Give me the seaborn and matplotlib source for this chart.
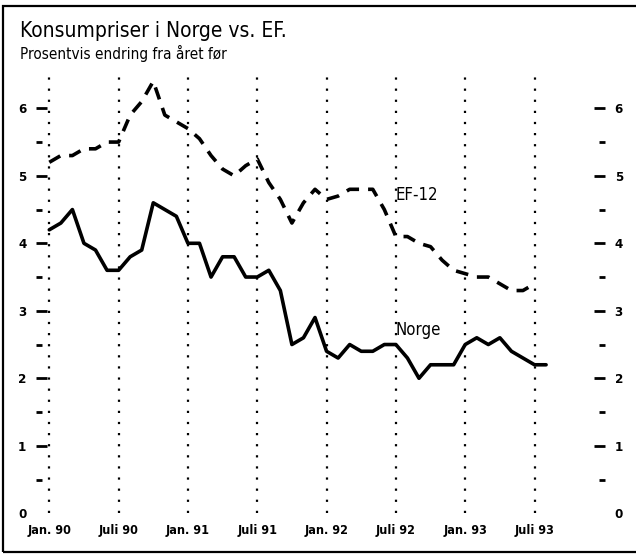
"""Konsumpriser i Norge vs. EF. - recreated with seaborn."""

import matplotlib

matplotlib.use("Agg")
import matplotlib.pyplot as plt
import numpy as np
import pandas as pd
import seaborn as sns
from matplotlib import font_manager
from matplotlib.patches import Rectangle

# months counted from Jan. 1990
norge = [4.2, 4.3, 4.5, 4.0, 3.9, 3.6, 3.6, 3.8, 3.9, 4.6, 4.5, 4.4,
         4.0, 4.0, 3.5, 3.8, 3.8, 3.5, 3.5, 3.6, 3.3, 2.5, 2.6, 2.9,
         2.4, 2.3, 2.5, 2.4, 2.4, 2.5, 2.5, 2.3, 2.0, 2.2, 2.2, 2.2,
         2.5, 2.6, 2.5, 2.6, 2.4, 2.3, 2.2, 2.2]
ef12 = [5.2, 5.3, 5.3, 5.4, 5.4, 5.5, 5.5, 5.9, 6.1, 6.4, 5.9, 5.8,
        5.7, 5.55, 5.3, 5.1, 5.0, 5.15, 5.25, 4.9, 4.65, 4.3, 4.6, 4.8,
        4.65, 4.7, 4.8, 4.8, 4.8, 4.5, 4.1, 4.1, 4.0, 3.95, 3.75, 3.6,
        3.55, 3.5, 3.5, 3.4, 3.3, 3.3, 3.4]
tick_months = [0, 6, 12, 18, 24, 30, 36, 42]
tick_labels = ["Jan. 90", "Juli 90", "Jan. 91", "Juli 91",
               "Jan. 92", "Juli 92", "Jan. 93", "Juli 93"]
y_ticks = [0, 1, 2, 3, 4, 5, 6]

W, H = 636, 557

sns.set_style("white")
plt.rcParams["font.family"] = ["Liberation Sans", "DejaVu Sans"]
plt.rcParams["text.color"] = "black"
plt.rcParams["xtick.color"] = "black"
plt.rcParams["ytick.color"] = "black"


def narrow_font(bold):
  # look for a condensed/narrow sans face; None if nothing like that is installed
  want = 700 if bold else 400
  best = None
  for f in font_manager.fontManager.ttflist:
    narrow = ("Narrow" in f.name or "Condensed" in f.name
              or f.stretch in ("condensed", "semi-condensed", 600, 700, 300, 400))
    narrow = narrow and f.stretch not in ("normal", 500)
    if not narrow or f.style != "normal":
      continue
    w = f.weight if isinstance(f.weight, int) else (700 if "bold" in str(f.weight) else 400)
    if (w >= 600) != bold:
      continue
    if best is None or abs(w - want) < abs(best[0] - want):
      best = (w, f.fname)
  return best[1] if best else None


reg_file = narrow_font(False)
bold_file = narrow_font(True)
have_narrow = reg_file is not None
fp_reg = font_manager.FontProperties(fname=reg_file) if have_narrow else font_manager.FontProperties(family="Liberation Sans")
fp_bold = (font_manager.FontProperties(fname=bold_file) if bold_file
           else font_manager.FontProperties(family="Liberation Sans", weight="bold"))
k = 1.0 if have_narrow else 0.85

df = pd.concat([
  pd.DataFrame({"month": np.arange(len(norge)), "value": norge, "serie": "Norge"}),
  pd.DataFrame({"month": np.arange(len(ef12)), "value": ef12, "serie": "EF-12"}),
])

fig = plt.figure(figsize=(W / 100, H / 100), dpi=100)
ax = fig.add_axes([36 / W, (H - 520) / H, (605 - 36) / W, (520 - 57.7) / H])

# dotted verticals at every january / july
for m in tick_months:
  ax.plot([m, m], [0, 6.5], color="black", lw=1.6, linestyle=(0, (1, 4)), zorder=1)

sns.lineplot(data=df, x="month", y="value", style="serie",
             dashes={"Norge": "", "EF-12": (3.5, 2.5)},
             color="black", linewidth=2.6, legend=False, ax=ax, zorder=3)

ax.set_xlim(-1.15, 48.1)
ax.set_ylim(-0.1, 6.75)
for s in ax.spines.values():
  s.set_visible(False)

ax.set_xticks(tick_months)
ax.set_xticklabels(tick_labels)
ax.tick_params(axis="x", length=0, pad=3)
for lab in ax.get_xticklabels():
  lab.set_fontproperties(fp_bold)
  lab.set_fontsize(9 * k)

ax.set_yticks(y_ticks)
ax.set_yticks(np.arange(0.5, 6.5, 1.0), minor=True)
ax.set_yticklabels([str(v) for v in y_ticks])
ax.tick_params(axis="y", which="major", direction="in", length=8, width=2,
               left=True, right=True, labelleft=True, labelright=True, pad=7)
ax.tick_params(axis="y", which="minor", direction="in", length=4, width=2,
               left=True, right=True)
ax.yaxis.get_major_ticks()[0].tick1line.set_visible(False)
ax.yaxis.get_major_ticks()[0].tick2line.set_visible(False)
for lab in ax.get_yticklabels():
  lab.set_fontproperties(fp_bold)
  lab.set_fontsize(9.5)
for t in ax.yaxis.get_major_ticks():
  t.set_pad(7)
  t.label2.set_x(1.0)
ax.tick_params(axis="y", which="major", pad=7)
ax.set_xlabel("")
ax.set_ylabel("")

ax.text(29.95, 4.72, "EF-12", fontproperties=fp_reg, fontsize=12 * k,
        va="center", ha="left")
ax.text(29.95, 2.72, "Norge", fontproperties=fp_reg, fontsize=12 * k,
        va="center", ha="left")

fig.text(20 / W, 1 - 37 / H, "Konsumpriser i Norge vs. EF.", fontproperties=fp_reg,
         fontsize=15 * k, va="baseline", ha="left")
fig.text(20 / W, 1 - 59 / H, "Prosentvis endring fra året før", fontproperties=fp_reg,
         fontsize=11 * k, va="baseline", ha="left")

# outer frame (open on the right)
fig.patches.append(Rectangle((3 / W, 5 / H), 1.2, 1 - 11 / H, transform=fig.transFigure,
                             fill=False, edgecolor="black", linewidth=1.6))

fig.savefig("out.png", dpi=100)
plt.close(fig)
